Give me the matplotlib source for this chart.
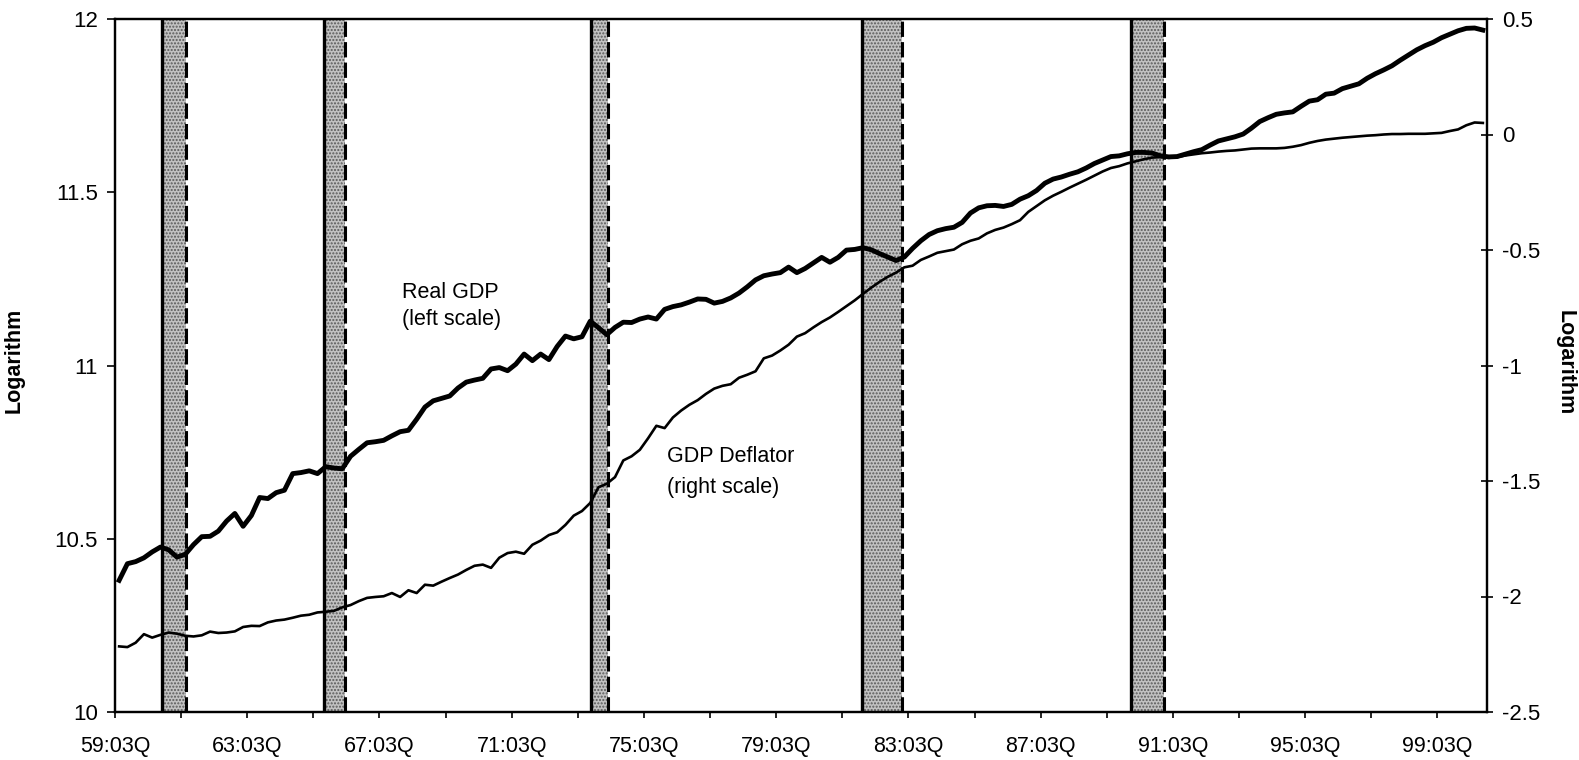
import numpy as np
import matplotlib
matplotlib.use('Agg')
import matplotlib.pyplot as plt

plt.rcParams['font.family'] = ['Liberation Sans', 'DejaVu Sans']
plt.rcParams['axes.unicode_minus'] = False
plt.rcParams['hatch.linewidth'] = 1.0

# ---- data: quarterly logs, 1959Q3 .. 2000Q4 (166 quarters) ----
real_gdp = [
    10.380, 10.428, 10.434, 10.445, 10.462, 10.476, 10.468, 10.447, 10.455, 10.483,
    10.506, 10.507, 10.522, 10.551, 10.573, 10.536, 10.567, 10.619, 10.616, 10.633,
    10.640, 10.688, 10.691, 10.696, 10.688, 10.708, 10.704, 10.702, 10.738, 10.758,
    10.777, 10.780, 10.784, 10.797, 10.809, 10.813, 10.845, 10.880, 10.898, 10.905,
    10.912, 10.935, 10.952, 10.958, 10.963, 10.990, 10.994, 10.985, 11.004, 11.033,
    11.014, 11.033, 11.017, 11.055, 11.085, 11.077, 11.083, 11.128, 11.109, 11.089,
    11.110, 11.125, 11.124, 11.134, 11.140, 11.134, 11.162, 11.170, 11.175, 11.183,
    11.192, 11.191, 11.180, 11.185, 11.195, 11.209, 11.227, 11.247, 11.259, 11.264,
    11.268, 11.284, 11.268, 11.280, 11.296, 11.312, 11.298, 11.312, 11.333, 11.335,
    11.340, 11.334, 11.323, 11.313, 11.303, 11.313, 11.338, 11.360, 11.378, 11.389,
    11.395, 11.399, 11.413, 11.440, 11.455, 11.461, 11.462, 11.459, 11.465, 11.480,
    11.490, 11.505, 11.526, 11.538, 11.544, 11.552, 11.559, 11.570, 11.583, 11.593,
    11.603, 11.605, 11.611, 11.615, 11.615, 11.613, 11.605, 11.602, 11.603, 11.610,
    11.617, 11.623, 11.636, 11.648, 11.654, 11.660, 11.668, 11.685, 11.704, 11.715,
    11.725, 11.729, 11.732, 11.748, 11.763, 11.767, 11.783, 11.786, 11.799, 11.806,
    11.813, 11.829, 11.842, 11.853, 11.865, 11.881, 11.896, 11.911, 11.923, 11.933,
    11.946, 11.956, 11.966, 11.973, 11.974, 11.968,
]
gdp_deflator = [
    -2.216, -2.219, -2.200, -2.163, -2.178, -2.166, -2.156, -2.161, -2.170, -2.173,
    -2.168, -2.152, -2.158, -2.156, -2.151, -2.132, -2.127, -2.128, -2.112, -2.104,
    -2.100, -2.092, -2.083, -2.079, -2.069, -2.066, -2.062, -2.047, -2.037, -2.020,
    -2.006, -2.002, -1.999, -1.985, -2.002, -1.973, -1.985, -1.949, -1.953, -1.936,
    -1.920, -1.905, -1.885, -1.867, -1.862, -1.876, -1.832, -1.812, -1.806, -1.815,
    -1.776, -1.758, -1.734, -1.722, -1.690, -1.650, -1.630, -1.595, -1.527, -1.512,
    -1.483, -1.411, -1.393, -1.365, -1.315, -1.261, -1.271, -1.225, -1.195, -1.170,
    -1.150, -1.123, -1.100, -1.088, -1.081, -1.053, -1.040, -1.025, -0.969, -0.957,
    -0.935, -0.910, -0.875, -0.860, -0.835, -0.812, -0.792, -0.768, -0.743, -0.718,
    -0.690, -0.663, -0.638, -0.616, -0.598, -0.575, -0.568, -0.543, -0.528, -0.512,
    -0.505, -0.498, -0.475, -0.460, -0.450, -0.428, -0.413, -0.403, -0.388, -0.371,
    -0.335, -0.310, -0.285, -0.265, -0.248, -0.230, -0.213, -0.196, -0.178, -0.160,
    -0.145, -0.137, -0.125, -0.116, -0.107, -0.100, -0.098, -0.101, -0.098, -0.091,
    -0.086, -0.081, -0.078, -0.074, -0.071, -0.069, -0.065, -0.061, -0.060, -0.060,
    -0.060, -0.058, -0.053, -0.046, -0.036, -0.028, -0.022, -0.018, -0.014, -0.011,
    -0.008, -0.005, -0.003, 0.000, 0.002, 0.002, 0.003, 0.003, 0.003, 0.005,
    0.007, 0.015, 0.022, 0.040, 0.052, 0.050,
]
# recession bands: peak (solid line) and trough (dashed line), in quarters since 1959Q3
rec_peak = [5.7, 25.3, 57.6, 90.4, 122.9]
rec_trough = [8.6, 27.8, 59.7, 95.2, 126.9]

tick_labels = ['59:03Q', '63:03Q', '67:03Q', '71:03Q', '75:03Q', '79:03Q',
               '83:03Q', '87:03Q', '91:03Q', '95:03Q', '99:03Q']

n = len(real_gdp)
x = np.arange(n) + 0.5

fig = plt.figure(figsize=(15.79, 7.6), dpi=100)
ax = fig.add_axes([115 / 1579, 1 - 712 / 760, 1372 / 1579, 693 / 760])
ax2 = ax.twinx()

for p, t in zip(rec_peak, rec_trough):
    ax.axvspan(p, t, facecolor='#c2c2c2', edgecolor='#5a5a5a', hatch='.....', lw=0, zorder=1)
    ax.axvline(p, color='black', lw=2.4, zorder=2)
    ax.axvline(t, color='black', lw=2.2, ls=(0, (5, 1.7)), zorder=2)

ax.plot(x, real_gdp, color='black', lw=3.5, zorder=4, solid_joinstyle='round')
ax2.plot(x, gdp_deflator, color='black', lw=1.9, zorder=4, solid_joinstyle='round')

ax.set_xlim(0, n)
ax.set_ylim(10, 12)
ax2.set_ylim(-2.5, 0.5)

ax.set_xticks(np.arange(0, n, 8), minor=True)
ax.set_xticks(np.arange(0, n, 16))
ax.set_xticklabels(tick_labels)
ax.set_yticks([10, 10.5, 11, 11.5, 12])
ax.set_yticklabels(['10', '10.5', '11', '11.5', '12'])
ax2.set_yticks([-2.5, -2, -1.5, -1, -0.5, 0, 0.5])
ax2.set_yticklabels(['-2.5', '-2', '-1.5', '-1', '-0.5', '0', '0.5'])

ax.tick_params(axis='x', which='both', direction='out', length=4, width=1.2,
               labelsize=15.5, pad=13)
ax.tick_params(axis='y', direction='out', length=5.5, width=1.2, labelsize=16, pad=7)
ax2.tick_params(axis='y', direction='inout', length=8, width=1.2, labelsize=16, pad=7)

for a in (ax, ax2):
    for s in a.spines.values():
        s.set_linewidth(1.6)

fig.text(14 / 1579, 1 - 360 / 760, 'Logarithm', fontsize=15.5, fontweight='bold',
         rotation=90, ha='center', va='center')
fig.text(1565 / 1579, 1 - 363 / 760, 'Logarithm', fontsize=15.5, fontweight='bold',
         rotation=270, ha='center', va='center')

fig.text(402 / 1579, 1 - 292 / 760, 'Real GDP', fontsize=15.5, va='center', ha='left')
fig.text(402 / 1579, 1 - 319 / 760, '(left scale)', fontsize=15.5, va='center', ha='left')
fig.text(667 / 1579, 1 - 457 / 760, 'GDP Deflator', fontsize=15.5, va='center', ha='left')
fig.text(667 / 1579, 1 - 487 / 760, '(right scale)', fontsize=15.5, va='center', ha='left')

fig.savefig('out.png', dpi=100)
